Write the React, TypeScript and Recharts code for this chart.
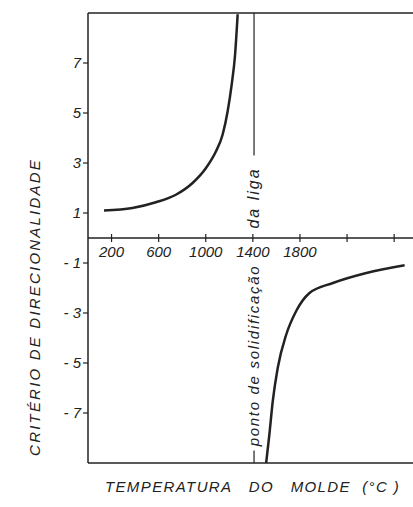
import { LineChart, Line, XAxis, YAxis, ReferenceLine, ReferenceDot } from 'recharts';

// upper branch (before the solidification point)
const upperTemp = [136, 377, 576, 746, 888, 1002, 1087, 1143, 1186, 1220, 1249, 1271];
const upperCrit = [1.1, 1.2, 1.43, 1.73, 2.2, 2.8, 3.47, 4.13, 5.07, 6.13, 7.33, 8.95];

// lower branch (after the solidification point)
const lowerTemp = [1513, 1540, 1569, 1611, 1683, 1767, 1881, 2080, 2364, 2689];
const lowerCrit = [-9, -7.87, -6.53, -5.2, -3.87, -2.93, -2.2, -1.8, -1.4, -1.09];

const xTicks = [200, 600, 1000, 1400, 1800, 2200, 2600];
const xTickLabels = ['200', '600', '1000', '1400', '1800', '', ''];
const yTicks = [7, 5, 3, 1, -1, -3, -5, -7];
const solidPoint = 1410;

const upper = upperTemp.map((t, i) => ({ t, v: upperCrit[i] }));
const lower = lowerTemp.map((t, i) => ({ t, v: lowerCrit[i] }));

const ink = '#222';
const font = '"Liberation Sans", Arial, sans-serif';

const App = () => {
  return (
    <div style={{ position: 'absolute', left: 0, top: 0, width: 413, height: 507, background: '#fff' }}>
      <LineChart width={413} height={507} margin={{ top: 13, right: 0, left: 0, bottom: 44 }}>
        <XAxis type="number" dataKey="t" domain={[0, 2760]} hide allowDataOverflow />
        <YAxis
          type="number"
          domain={[-9, 9]}
          ticks={yTicks}
          width={88}
          axisLine={{ stroke: ink, strokeWidth: 1.5 }}
          tickLine={{ stroke: ink, strokeWidth: 1.2 }}
          tickSize={5}
          tickFormatter={(v: number) => (v < 0 ? `- ${Math.abs(v)}` : `${v}`)}
          tick={{ fill: ink, fontSize: 15, fontStyle: 'italic', fontFamily: font }}
          label={{
            value: 'CRITÉRIO  DE  DIRECIONALIDADE',
            angle: -90,
            position: 'insideLeft',
            dx: 30,
            dy: 69,
            style: { fill: ink, fontSize: 15, fontStyle: 'italic', fontFamily: font, letterSpacing: 2.2, textAnchor: 'middle' },
          }}
          allowDataOverflow
        />
        <ReferenceLine y={9} stroke={ink} strokeWidth={1.5} />
        <ReferenceLine y={-9} stroke={ink} strokeWidth={1.5} />
        <ReferenceLine y={0} stroke={ink} strokeWidth={1.3} />
        <ReferenceLine segment={[{ x: solidPoint, y: 9 }, { x: solidPoint, y: 3.3 }]} stroke={ink} strokeWidth={1.2} />
        <ReferenceLine segment={[{ x: solidPoint, y: -8.5 }, { x: solidPoint, y: -9 }]} stroke={ink} strokeWidth={1.2} />
        {xTicks.map((t, i) => (
          <ReferenceDot
            key={t}
            x={t}
            y={0}
            r={0}
            shape={(p: any) => (
              <g>
                <line x1={p.cx} x2={p.cx} y1={p.cy - 4} y2={p.cy + 4} stroke={ink} strokeWidth={1.2} />
                <text
                  x={p.cx}
                  y={p.cy + 19}
                  textAnchor="middle"
                  fill={ink}
                  fontSize={15}
                  fontStyle="italic"
                  fontFamily={font}
                >
                  {xTickLabels[i]}
                </text>
              </g>
            )}
          />
        ))}
        <ReferenceDot
          x={solidPoint}
          y={1.6}
          r={0}
          shape={(p: any) => (
            <text
              transform={`translate(${p.cx + 5},${p.cy}) rotate(-90)`}
              textAnchor="middle"
              fill={ink}
              fontSize={16}
              fontStyle="italic"
              fontFamily={font}
              letterSpacing={2}
            >
              da liga
            </text>
          )}
        />
        <ReferenceDot
          x={solidPoint}
          y={-4.7}
          r={0}
          shape={(p: any) => (
            <text
              transform={`translate(${p.cx + 5},${p.cy}) rotate(-90)`}
              textAnchor="middle"
              fill={ink}
              fontSize={15}
              fontStyle="italic"
              fontFamily={font}
              letterSpacing={1.7}
            >
              ponto de solidificação
            </text>
          )}
        />
        <Line data={upper} dataKey="v" type="monotone" stroke={ink} strokeWidth={2.5} dot={false} isAnimationActive={false} />
        <Line data={lower} dataKey="v" type="monotone" stroke={ink} strokeWidth={2.5} dot={false} isAnimationActive={false} />
      </LineChart>
      <div
        style={{
          position: 'absolute',
          left: 100,
          top: 478,
          width: 305,
          textAlign: 'center',
          fontFamily: font,
          fontSize: 15,
          fontStyle: 'italic',
          color: ink,
          letterSpacing: 1.4,
          whiteSpace: 'pre',
        }}
      >
        {'TEMPERATURA   DO   MOLDE  (°C )'}
      </div>
    </div>
  );
};

export default App;
